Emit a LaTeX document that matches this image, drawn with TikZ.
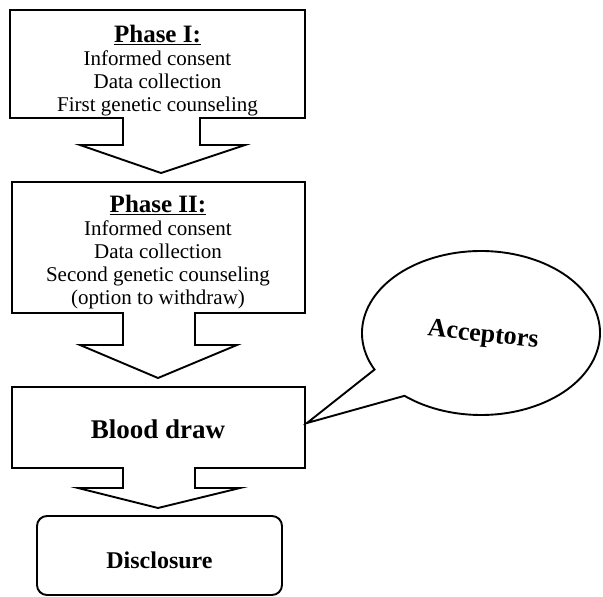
\documentclass[tikz,border=0pt]{standalone}
\usepackage{fontspec}
\setmainfont{Liberation Serif}
\usetikzlibrary{positioning}

\tikzset{
    outline/.style={draw, line width=1.9pt, line join=miter},
    bodytext/.style={align=center, font=\fontsize{21}{23}\selectfont},
    headtext/.style={font=\fontsize{27}{29}\selectfont\bfseries},
}

\begin{document}
\begin{tikzpicture}[x=1pt, y=-1pt]
    \useasboundingbox (0,0) rectangle (603,597);

    % Phase I (box with arrow down)
    \draw[outline] (10,10) -- (305,10) -- (305,118) -- (200,118) -- (200,145) -- (245,145)
        -- (161,173) -- (80,145) -- (123,145) -- (123,118) -- (10,118) -- cycle;
    \node[bodytext] (phaseI) at (157.5,71) {{\bfseries\fontsize{25}{24}\selectfont\underline{Phase I:}}\\
        Informed consent\\ Data collection\\ First genetic counseling};

    % Phase II
    \draw[outline] (12,182) -- (305,182) -- (305,313) -- (195,313) -- (195,345) -- (237,345)
        -- (158,378) -- (80,345) -- (123,345) -- (123,313) -- (12,313) -- cycle;
    \node[bodytext] (phaseII) at (158,252) {{\bfseries\fontsize{25}{24}\selectfont\underline{Phase II:}}\\
        Informed consent\\ Data collection\\ Second genetic counseling\\ (option to withdraw)};

    % Blood draw
    \draw[outline] (12,387) -- (305,387) -- (305,468) -- (195,468) -- (195,488) -- (240,488)
        -- (158,508) -- (78,488) -- (123,488) -- (123,468) -- (12,468) -- cycle;
    \node[headtext] (blood) at (158,429) {Blood draw};

    % Disclosure
    \draw[outline, rounded corners=10pt] (37,516) rectangle (282,595);
    \node[headtext, font=\fontsize{24}{26}\selectfont\bfseries] (disclosure) at (159.5,560) {Disclosure};

    % Acceptors (speech bubble)
    \coordinate (tip) at (307,423);
    \draw[outline] (481,333) ++(153.5:119 and 82)
        arc[start angle=153.5, end angle=490, x radius=119, y radius=82] -- (tip) -- cycle;
    \node[headtext, font=\fontsize{26}{28}\selectfont\bfseries, rotate=-6] (acceptors) at (483,336) {Acceptors};

\end{tikzpicture}
\end{document}
